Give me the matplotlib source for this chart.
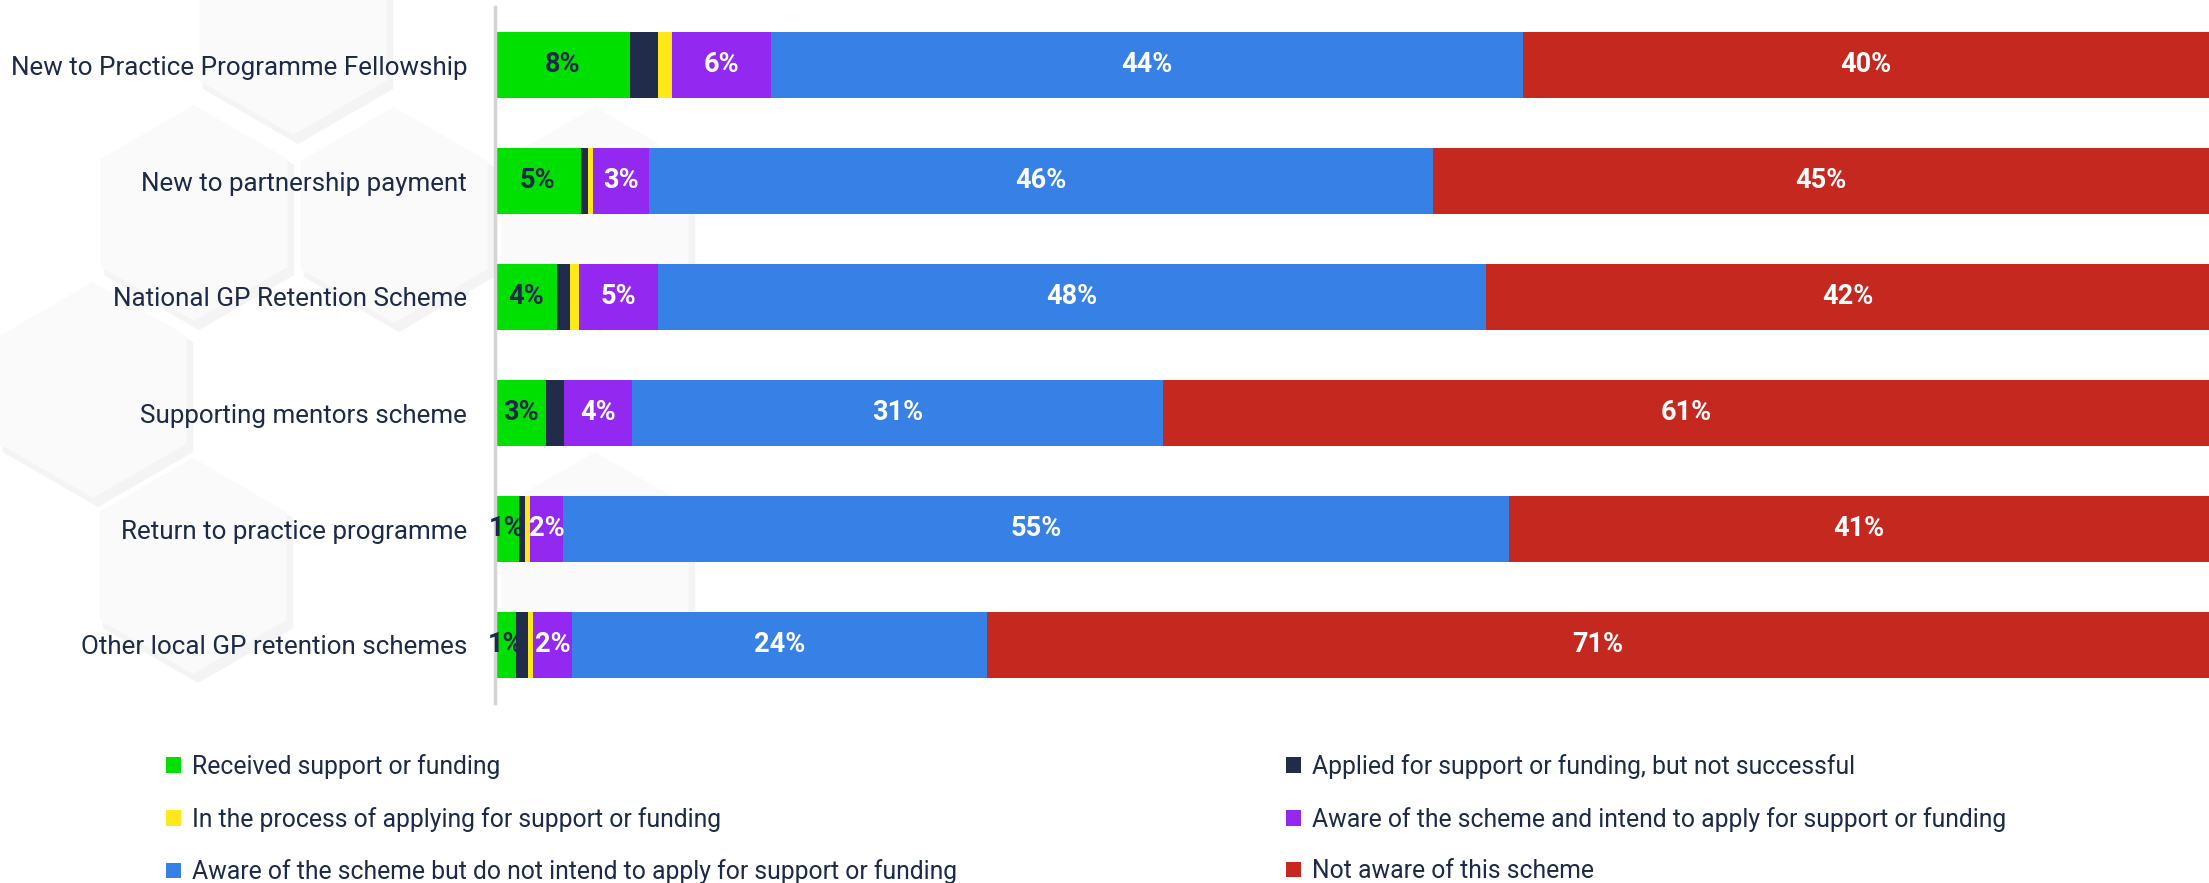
import numpy as np
import matplotlib
matplotlib.use("Agg")
import matplotlib.pyplot as plt
from matplotlib.patches import Patch, RegularPolygon

plt.rcParams['font.family'] = ['Roboto', 'DejaVu Sans']

# schemes, top to bottom
categories = [
    "New to Practice Programme Fellowship",
    "New to partnership payment",
    "National GP Retention Scheme",
    "Supporting mentors scheme",
    "Return to practice programme",
    "Other local GP retention schemes",
]

series_names = [
    "Received support or funding",
    "Applied for support or funding, but not successful",
    "In the process of applying for support or funding",
    "Aware of the scheme and intend to apply for support or funding",
    "Aware of the scheme but do not intend to apply for support or funding",
    "Not aware of this scheme",
]

# percentages per series (one value per scheme)
received = [7.9, 5.0, 3.6, 3.0, 1.4, 1.2]
applied_fail = [1.6, 0.4, 0.8, 1.0, 0.35, 0.7]
in_process = [0.8, 0.3, 0.5, 0.0, 0.3, 0.3]
intend = [5.8, 3.3, 4.6, 4.0, 1.9, 2.3]
not_intend = [43.9, 45.7, 48.3, 31.0, 55.2, 24.2]
not_aware = [40.0, 45.3, 42.2, 61.0, 40.85, 71.3]

colors = ['#00e000', '#212b4a', '#ffe818', '#9328f0', '#3680e6', '#c4281f']
label_colors = ['#1c2a48', None, None, 'white', 'white', 'white']
text_col = '#1c2a48'

W, H = 2209, 883
fig = plt.figure(figsize=(W / 100, H / 100), dpi=100)

# faint decorative hexagons in the background
hex_centers = [(293, 27), (194, 213), (394, 215), (93, 390), (193, 566), (595, 215), (595, 560)]
for cx, cy in hex_centers:
    fig.patches.append(RegularPolygon((cx + 5, H - cy - 7), 6, radius=110, orientation=0,
                                      transform=None, facecolor='#f4f4f4', edgecolor='none', zorder=-2))
    fig.patches.append(RegularPolygon((cx, H - cy), 6, radius=108, orientation=0,
                                      transform=None, facecolor='#fafafa', edgecolor='none', zorder=-1))

ax = fig.add_axes([495 / W, 1 - 703 / H, 1 - 495 / W, 696 / H])
ax.patch.set_alpha(0)
ax.set_zorder(1)

data = [received, applied_fail, in_process, intend, not_intend, not_aware]
y = np.arange(len(categories))
left = np.zeros(len(categories))
for i, vals in enumerate(data):
    vals = np.array(vals)
    bars = ax.barh(y, vals, left=left, height=0.57, color=colors[i], linewidth=0, label=series_names[i])
    if label_colors[i] is not None:
        for b, v in zip(bars, vals):
            if v > 0:
                ax.text(b.get_x() + b.get_width() / 2, b.get_y() + b.get_height() / 2, f"{v:.0f}%",
                        ha='center', va='center', fontsize=19.5, fontweight='bold', color=label_colors[i])
    left += vals

ax.set_xlim(0, 100)
ax.set_ylim(len(categories) - 0.5, -0.5)
ax.set_yticks(y, categories, fontsize=18.7, color=text_col)
ax.tick_params(axis='y', length=0, pad=20)
ax.set_xticks([])
for s in ['top', 'right', 'bottom']:
    ax.spines[s].set_visible(False)
ax.spines['left'].set_color('#d4d4d4')
ax.spines['left'].set_linewidth(2.5)

# legend: two columns
handles = [Patch(facecolor=c, edgecolor='none') for c in colors]
col1 = [0, 2, 4]
col2 = [1, 3, 5]
for idx, x0 in [(col1, 166 / W), (col2, 1286 / W)]:
    fig.legend([handles[k] for k in idx], [series_names[k] for k in idx],
               loc='upper left', bbox_to_anchor=(x0, 1 - 754 / H), frameon=False,
               fontsize=17.8, labelcolor=text_col, handlelength=0.6, handleheight=0.6,
               handletextpad=0.45, labelspacing=1.12, borderpad=0, borderaxespad=0)

fig.savefig("out.png", dpi=100)
